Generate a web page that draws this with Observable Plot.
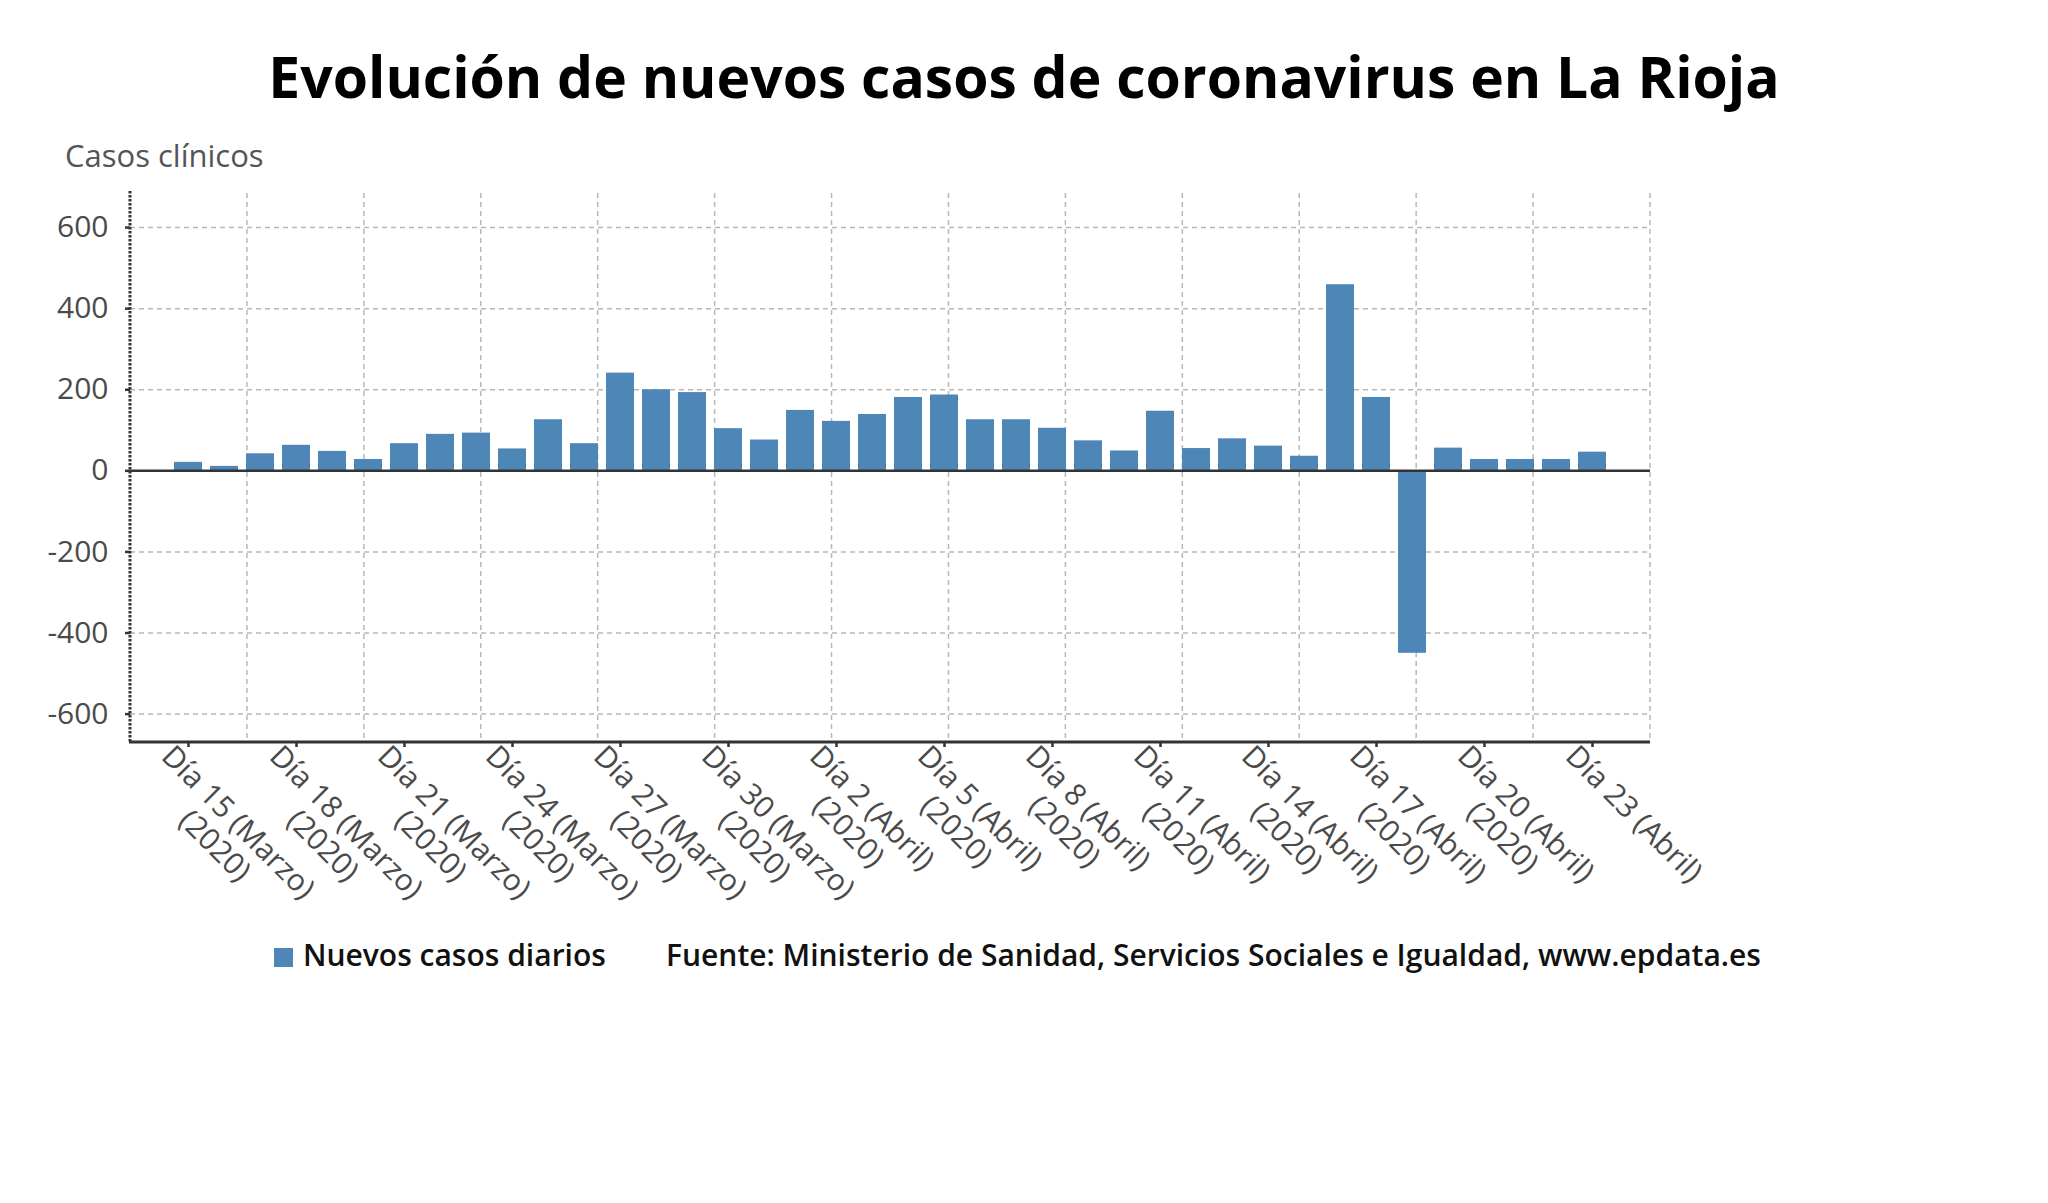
<!DOCTYPE html>
<html lang="es">
<head>
<meta charset="utf-8">
<title>Evolución de nuevos casos de coronavirus en La Rioja</title>
<script src="https://cdn.jsdelivr.net/npm/d3@7"></script>
<script src="https://cdn.jsdelivr.net/npm/@observablehq/plot@0.6"></script>
<style>
  html, body { margin: 0; padding: 0; background: #fff; }
  body { font-family: "Open Sans", sans-serif; }
  #wrap { position: relative; width: 2048px; height: 1203px; overflow: hidden; background: #fff; }
  .titulo { position: absolute; left: 0; top: 48px; width: 2048px; text-align: center;
            font-size: 57px; line-height: 1; font-weight: 700; color: #000; white-space: nowrap; }
  .unidad { position: absolute; left: 65px; top: 140px; font-size: 31px; line-height: 1; font-weight: 500; color: #555; }
  #grafico { position: absolute; left: 0; top: 120px; }
  .leyenda { position: absolute; left: 274px; top: 940px; font-size: 30px; line-height: 1; font-weight: 600;
             color: #111; white-space: nowrap; }
  .leyenda .muestra { position: absolute; left: 0; top: 8px; width: 19px; height: 19px; background: #4f86b8; }
  .leyenda .serie { position: absolute; left: 29px; top: 0; }
  .leyenda .fuente { position: absolute; left: 392px; top: 0; }
</style>
</head>
<body>
<div id="wrap">
  <div class="titulo">Evolución de nuevos casos de coronavirus en La Rioja</div>
  <div class="unidad">Casos clínicos</div>
  <div id="grafico"></div>
  <div class="leyenda">
    <div class="muestra"></div>
    <span class="serie">Nuevos casos diarios</span>
    <span class="fuente">Fuente: Ministerio de Sanidad, Servicios Sociales e Igualdad, www.epdata.es</span>
  </div>
</div>
<script>
// Days of each month covered by the series
const diasMarzo = [15, 16, 17, 18, 19, 20, 21, 22, 23, 24, 25, 26, 27, 28, 29, 30, 31];
const diasAbril = [1, 2, 3, 4, 5, 6, 7, 8, 9, 10, 11, 12, 13, 14, 15, 16, 17, 18, 19, 20, 21, 22, 23];

// New daily cases, one value per day (March 15 – April 23)
const nuevosCasos = [
  21, 11, 42, 63, 48, 28, 67, 90, 93, 54, 126, 67, 241, 200, 193, 104, 76,
  149, 122, 139, 181, 187, 126, 126, 105, 74, 49, 147, 55, 79, 61, 36, 459, 181, -450, 56, 28, 28, 28, 46
];

// Labelled ticks on the date axis and their texts
const ticksEje = ["15 (Marzo)", "18 (Marzo)", "21 (Marzo)", "24 (Marzo)", "27 (Marzo)", "30 (Marzo)",
                  "2 (Abril)", "5 (Abril)", "8 (Abril)", "11 (Abril)", "14 (Abril)", "17 (Abril)", "20 (Abril)", "23 (Abril)"];
const etiquetasEje = [
  "Día 15 (Marzo)\n(2020)", "Día 18 (Marzo)\n(2020)", "Día 21 (Marzo)\n(2020)", "Día 24 (Marzo)\n(2020)",
  "Día 27 (Marzo)\n(2020)", "Día 30 (Marzo)\n(2020)", "Día 2 (Abril)\n(2020)", "Día 5 (Abril)\n(2020)",
  "Día 8 (Abril)\n(2020)", "Día 11 (Abril)\n(2020)", "Día 14 (Abril)\n(2020)", "Día 17 (Abril)\n(2020)",
  "Día 20 (Abril)\n(2020)", "Día 23 (Abril)"
];

// Value axis ticks
const ticksY = [-600, -400, -200, 0, 200, 400, 600];

const fechas = [
  ...diasMarzo.map(d => `${d} (Marzo)`),
  ...diasAbril.map(d => `${d} (Abril)`)
];
const datos = fechas.map((fecha, i) => ({fecha, casos: nuevosCasos[i]}));
const etiquetaDe = new Map(ticksEje.map((t, i) => [t, etiquetasEje[i]]));

const azul = "#4f86b8";
const oscuro = "#333";
const gris = "#4a4a4a";

// Frame decorations: evenly spaced vertical guides, dotted value axis and solid base line
function marco(index, scales, values, dims) {
  const {width, height, marginLeft, marginRight, marginTop, marginBottom} = dims;
  const x0 = marginLeft, x1 = width - marginRight;
  const y0 = marginTop, y1 = height - marginBottom;
  const g = d3.create("svg:g").attr("fill", "none");
  const divisiones = 13;
  g.selectAll("line.guia")
    .data(d3.range(1, divisiones + 1))
    .join("line")
      .attr("class", "guia")
      .attr("x1", k => x0 + (x1 - x0) * k / divisiones)
      .attr("x2", k => x0 + (x1 - x0) * k / divisiones)
      .attr("y1", y0)
      .attr("y2", y1)
      .attr("stroke", "#b8b8b8")
      .attr("stroke-width", 1.5)
      .attr("stroke-dasharray", "5,4");
  g.append("line")
      .attr("x1", x0).attr("x2", x0).attr("y1", y0 - 2).attr("y2", y1)
      .attr("stroke", oscuro).attr("stroke-width", 3).attr("stroke-dasharray", "2.5,1.5");
  g.append("line")
      .attr("x1", x0 - 1).attr("x2", x1).attr("y1", y1).attr("y2", y1)
      .attr("stroke", oscuro).attr("stroke-width", 3);
  return g.node();
}

const chart = Plot.plot({
  width: 2048,
  height: 782,
  marginLeft: 130,
  marginRight: 398,
  marginTop: 73,
  marginBottom: 160,
  style: {fontFamily: "'Open Sans', sans-serif", background: "transparent", overflow: "visible"},
  x: {type: "band", domain: fechas, paddingInner: 0.22, paddingOuter: 1.18},
  y: {domain: [-670, 684]},
  marks: [
    Plot.gridY(ticksY, {stroke: "#b8b8b8", strokeOpacity: 1, strokeWidth: 1.5, strokeDasharray: "5,4"}),
    marco,
    Plot.barY(datos, {x: "fecha", y: "casos", fill: azul}),
    Plot.ruleY([0], {stroke: oscuro, strokeWidth: 2.5}),
    Plot.axisY({ticks: ticksY, tickFormat: d => String(d), tickSize: 5, tickPadding: 17,
                fontSize: 30, fontWeight: 500, fill: gris, stroke: oscuro, strokeWidth: 2.5, label: null}),
    Plot.axisX({ticks: ticksEje, tickSize: 5, tickFormat: () => "", stroke: oscuro, strokeWidth: 2.5, label: null}),
    Plot.text(ticksEje, {
      x: d => d, text: d => etiquetaDe.get(d), frameAnchor: "bottom",
      rotate: 45, textAnchor: "start", lineAnchor: "top", lineHeight: 1.1,
      fontSize: 30, fontWeight: 500, fill: gris, dx: -12, dy: -1
    })
  ]
});

document.getElementById("grafico").appendChild(chart);

// Center the year line under the date line of each rotated label
function centrarEtiquetas() {
  chart.querySelectorAll("text").forEach(t => {
    const partes = t.querySelectorAll("tspan");
    if (partes.length === 2) {
      const w1 = partes[0].getComputedTextLength();
      const w2 = partes[1].getComputedTextLength();
      partes[1].setAttribute("x", (w1 - w2) / 2);
    }
  });
}
centrarEtiquetas();
if (document.fonts && document.fonts.ready) document.fonts.ready.then(centrarEtiquetas);
</script>
</body>
</html>
